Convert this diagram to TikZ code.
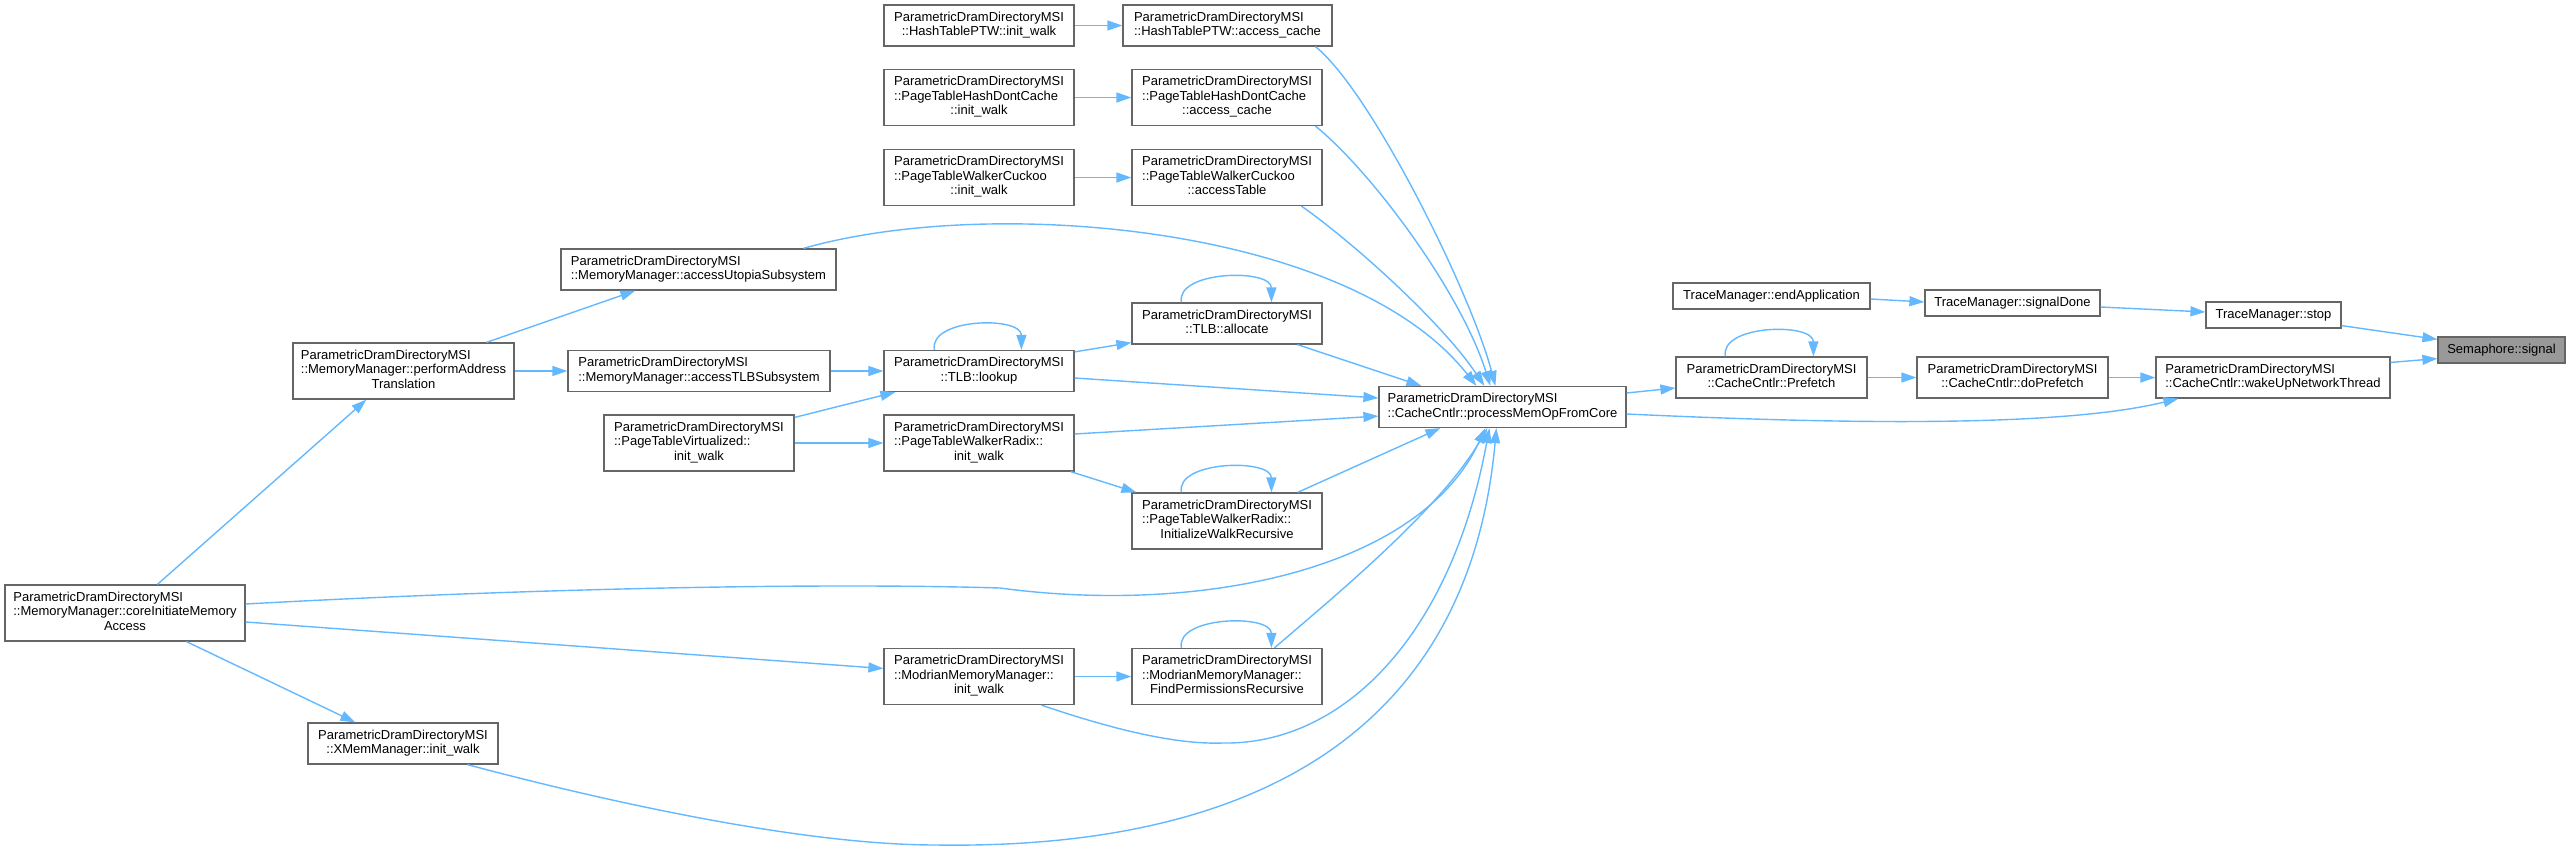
\documentclass[tikz,border=0pt]{standalone}
\usepackage{fontspec}
\setmainfont{Liberation Sans}
\usetikzlibrary{arrows.meta,calc}
\definecolor{edgeblue}{HTML}{63B8FF}
\definecolor{boxgray}{HTML}{666666}
\definecolor{selgray}{HTML}{999999}
\newcommand\Ltwo[2]{\begin{tabular}{@{}l@{}}#1\\\multicolumn{1}{@{}c@{}}{#2}\end{tabular}}
\newcommand\Lthree[3]{\begin{tabular}{@{}l@{}}#1\\#2\\\multicolumn{1}{@{}c@{}}{#3}\end{tabular}}
\newcommand\PD{ParametricDramDirectoryMSI}
\begin{document}
\begin{tikzpicture}[x=0.5pt,y=-0.5pt,
  box/.style={draw=boxgray, line width=0.6pt, fill=white, inner sep=0pt,
    font=\fontsize{6.5}{7.2}\selectfont},
  boxtwo/.style={box, minimum height=20.5pt},
  boxthree/.style={box, minimum height=28pt},
  boxone/.style={box, minimum height=13pt},
  sel/.style={fill=selgray},
  conn/.style={draw=edgeblue, line width=0.7pt, -{Triangle[length=7.5pt,width=5pt]}}]
\useasboundingbox (0,0) rectangle (2571,851);
% nodes
\node[boxtwo, minimum width=95pt] (hinit) at (979,25.5) {\Ltwo{\PD}{::HashTablePTW::init\_walk}};
\node[boxtwo, minimum width=104.5pt] (hacc) at (1227.5,25.5) {\Ltwo{\PD}{::HashTablePTW::access\_cache}};
\node[boxthree, minimum width=95pt] (pinit) at (979,97.5) {\Lthree{\PD}{::PageTableHashDontCache}{::init\_walk}};
\node[boxthree, minimum width=95pt] (pacc) at (1227,97.5) {\Lthree{\PD}{::PageTableHashDontCache}{::access\_cache}};
\node[boxthree, minimum width=95pt] (cinit) at (979,177.5) {\Lthree{\PD}{::PageTableWalkerCuckoo}{::init\_walk}};
\node[boxthree, minimum width=95pt] (cacc) at (1227,177.5) {\Lthree{\PD}{::PageTableWalkerCuckoo}{::accessTable}};
\node[boxtwo, minimum width=137.5pt] (util) at (698.5,269.5) {\Ltwo{\PD}{::MemoryManager::accessUtopiaSubsystem}};
\node[boxtwo, minimum width=95pt] (alloc) at (1227,323.5) {\Ltwo{\PD}{::TLB::allocate}};
\node[boxthree, minimum width=110.5pt] (pat) at (403.5,371) {\Lthree{\PD}{::MemoryManager::performAddress}{Translation}};
\node[boxtwo, minimum width=131pt] (tlbsub) at (699,371) {\Ltwo{\PD}{::MemoryManager::accessTLBSubsystem}};
\node[boxtwo, minimum width=95pt] (lookup) at (979,371) {\Ltwo{\PD}{::TLB::lookup}};
\node[boxtwo, minimum width=123.5pt] (pmofc) at (1502.5,407) {\Ltwo{\PD}{::CacheCntlr::processMemOpFromCore}};
\node[boxthree, minimum width=95pt] (ptv) at (699,443) {\Lthree{\PD}{::PageTableVirtualized::}{init\_walk}};
\node[boxthree, minimum width=95pt] (rinit) at (979,443) {\Lthree{\PD}{::PageTableWalkerRadix::}{init\_walk}};
\node[boxthree, minimum width=95pt] (iwr) at (1227,521) {\Lthree{\PD}{::PageTableWalkerRadix::}{InitializeWalkRecursive}};
\node[boxthree, minimum width=120pt] (cima) at (125,613) {\Lthree{\PD}{::MemoryManager::coreInitiateMemory}{Access}};
\node[boxthree, minimum width=95pt] (minit) at (979,676.5) {\Lthree{\PD}{::ModrianMemoryManager::}{init\_walk}};
\node[boxthree, minimum width=95pt] (fpr) at (1227,676.5) {\Lthree{\PD}{::ModrianMemoryManager::}{FindPermissionsRecursive}};
\node[boxtwo, minimum width=95pt] (xmem) at (403,743.5) {\Ltwo{\PD}{::XMemManager::init\_walk}};
\node[boxone, minimum width=98.5pt] (endapp) at (1771.5,296) {TraceManager::endApplication};
\node[boxone, minimum width=87.5pt] (sigdone) at (2012.5,303) {TraceManager::signalDone};
\node[boxone, minimum width=67.5pt] (stop) at (2273.5,315) {TraceManager::stop};
\node[boxone, sel, minimum width=63.5pt] (sem) at (2501.5,350) {Semaphore::signal};
\node[boxtwo, minimum width=95.5pt] (pref) at (1771.5,377.5) {\Ltwo{\PD}{::CacheCntlr::Prefetch}};
\node[boxtwo, minimum width=95.5pt] (dopref) at (2012.5,377.5) {\Ltwo{\PD}{::CacheCntlr::doPrefetch}};
\node[boxtwo, minimum width=117pt] (wake) at (2273,377.5) {\Ltwo{\PD}{::CacheCntlr::wakeUpNetworkThread}};
% connectors
\draw[conn] (hinit) -- (hacc);
\draw[conn] (pinit) -- (pacc);
\draw[conn] (cinit) -- (cacc);
\draw[conn] ($(hacc.south west)+(193,0)$) .. controls (1370,90) and (1470,290) .. ($(pmofc.north west)+(117,0)$);
\draw[conn] ($(pacc.south west)+(184,0)$) .. controls (1370,170) and (1460,290) .. ($(pmofc.north west)+(112,0)$);
\draw[conn] ($(cacc.south west)+(170,0)$) .. controls (1350,240) and (1440,320) .. ($(pmofc.north west)+(106,0)$);
\draw[conn] ($(util.north west)+(243,0)$) .. controls (990,195) and (1350,225) .. ($(pmofc.north west)+(98,0)$);
\draw[conn] ($(alloc.south west)+(166,0)$) -- ($(pmofc.north west)+(43,0)$);
\draw[conn] ($(lookup.east)+(0,7)$) -- ($(pmofc.west)+(0,-9)$);
\draw[conn] ($(lookup.north east)+(0,2)$) -- ($(alloc.south west)+(0,-2)$);
\draw[conn] ($(alloc.north west)+(50,0)$) .. controls +(-6,-32) and +(0,-34) .. ($(alloc.north west)+(140,0)$);
\draw[conn] ($(lookup.north west)+(51,0)$) .. controls +(-6,-32) and +(0,-34) .. ($(lookup.north west)+(138,0)$);
\draw[conn] (tlbsub) -- (lookup);
\draw[conn] (pat) -- (tlbsub);
\draw[conn] ($(pat.north west)+(194,0)$) -- ($(util.south west)+(75,0)$);
\draw[conn] ($(ptv.north east)+(0,3)$) -- ($(lookup.south west)+(12,0)$);
\draw[conn] (ptv) -- (rinit);
\draw[conn] ($(rinit.east)+(0,-9)$) -- ($(pmofc.south west)+(0,-12)$);
\draw[conn] ($(rinit.south east)+(-4,0)$) -- ($(iwr.north west)+(5,0)$);
\draw[conn] ($(iwr.north west)+(50,0)$) .. controls +(-6,-32) and +(0,-34) .. ($(iwr.north west)+(140,0)$);
\draw[conn] ($(iwr.north east)+(-25,0)$) -- ($(pmofc.south west)+(62,0)$);
\draw[conn] ($(cima.east)+(0,-9)$) .. controls (500,590) and (800,582) .. (1000,588)
   .. controls (1200,615) and (1420,570) .. ($(pmofc.south west)+(107,0)$);
\draw[conn] ($(cima.east)+(0,9)$) -- ($(minit.west)+(0,-8)$);
\draw[conn] ($(cima.south west)+(182,0)$) -- ($(xmem.north west)+(48,0)$);
\draw[conn] ($(cima.north west)+(153,0)$) -- ($(pat.south west)+(74,0)$);
\draw[conn] (minit) -- (fpr);
\draw[conn] ($(fpr.north west)+(50,0)$) .. controls +(-6,-32) and +(0,-34) .. ($(fpr.north west)+(140,0)$);
\draw[conn] ($(fpr.north west)+(143,0)$) .. controls (1330,600) and (1440,510) .. ($(pmofc.south west)+(109,0)$);
\draw[conn] ($(minit.south west)+(158,0)$) .. controls (1100,725) and (1170,745) .. (1223,743)
   .. controls (1340,745) and (1450,640) .. ($(pmofc.south west)+(111,0)$);
\draw[conn] ($(xmem.south west)+(160,0)$) .. controls (600,800) and (800,845) .. (936,845)
   .. controls (1270,850) and (1470,720) .. ($(pmofc.south west)+(118,0)$);
\draw[conn] ($(pmofc.east)+(0,-14)$) -- ($(pref.west)+(0,10.5)$);
\draw[conn] ($(pmofc.east)+(0,7)$) .. controls (1800,422) and (2050,430) .. ($(wake.south west)+(23,0)$);
\draw[conn] ($(pref.north west)+(50,0)$) .. controls +(-6,-32) and +(0,-34) .. ($(pref.north west)+(138,0)$);
\draw[conn] (pref) -- (dopref);
\draw[conn] (dopref) -- (wake);
\draw[conn] ($(wake.north east)+(0,6)$) -- ($(sem.south west)+(0,-5)$);
\draw[conn] ($(stop.south east)+(0,-3)$) -- ($(sem.north west)+(0,3)$);
\draw[conn] ($(sigdone.east)+(0,4)$) -- ($(stop.west)+(0,-3)$);
\draw[conn] ($(endapp.east)+(0,3)$) -- ($(sigdone.west)+(0,-1)$);
\end{tikzpicture}
\end{document}
